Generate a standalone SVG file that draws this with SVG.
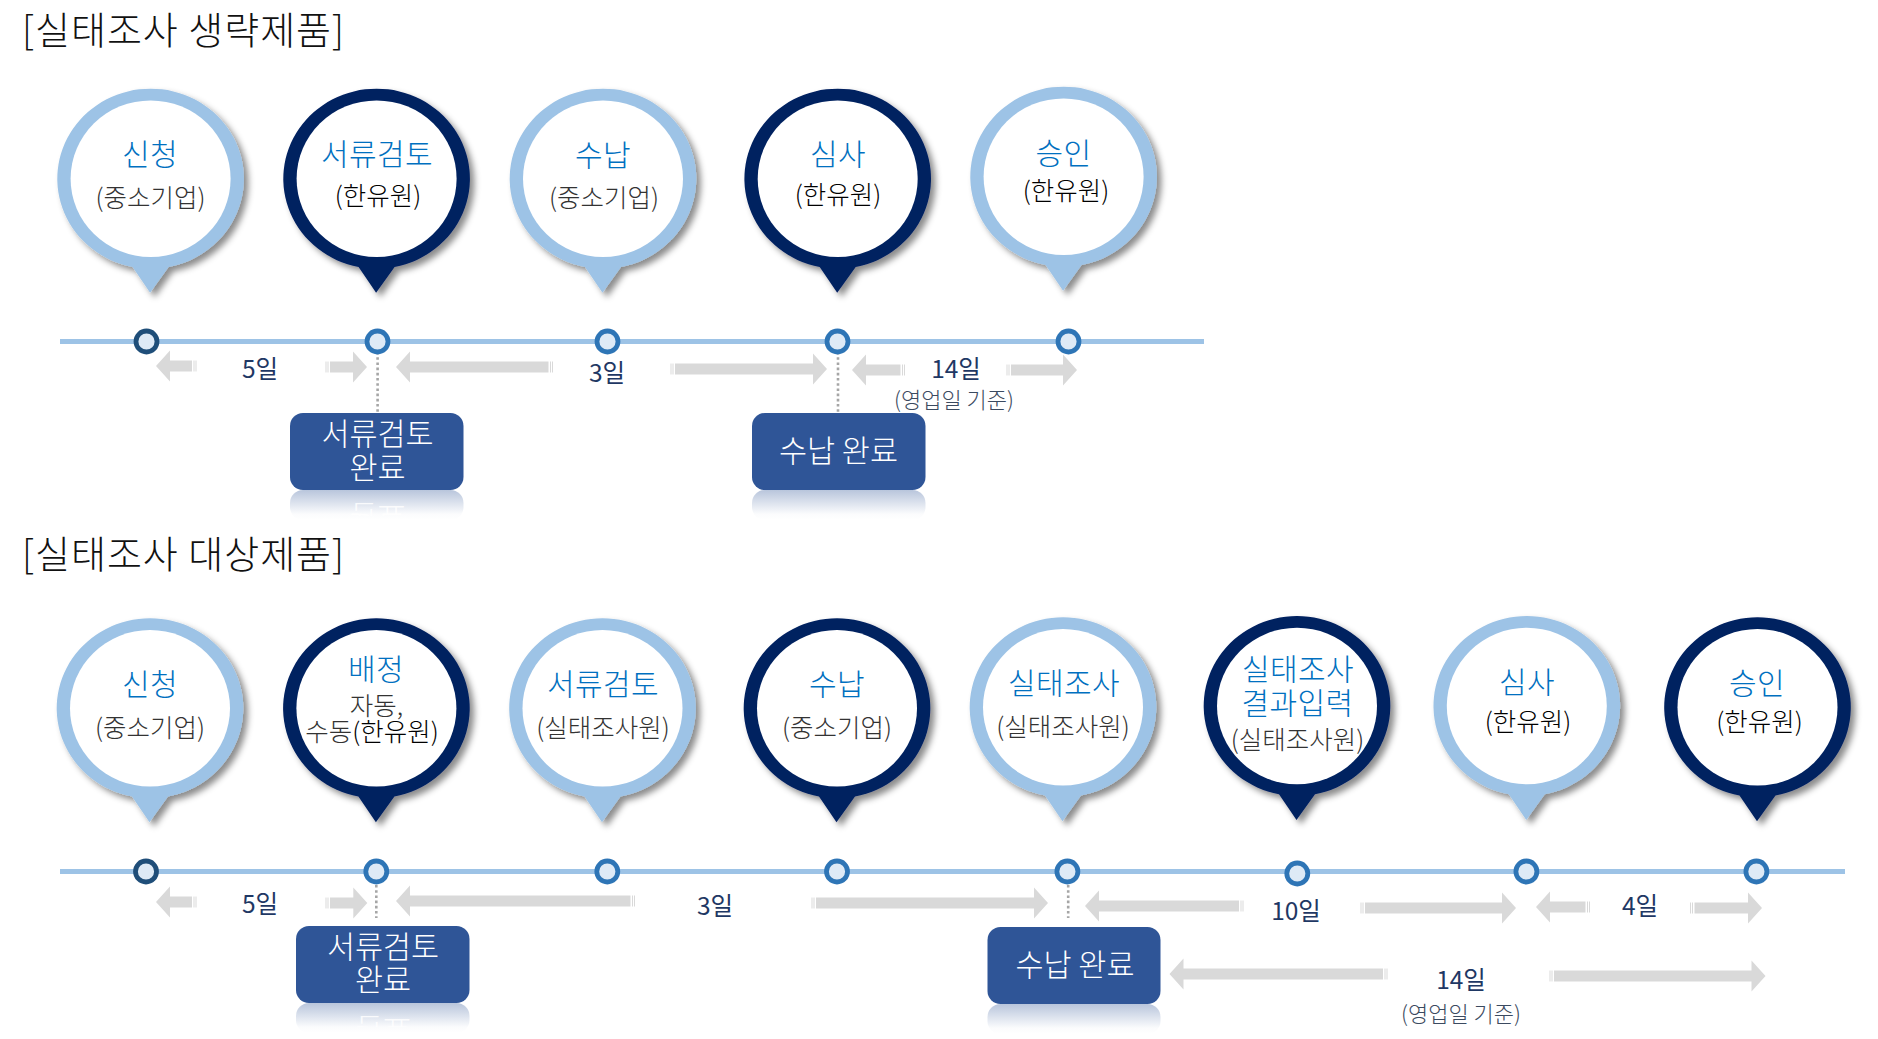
<svg xmlns="http://www.w3.org/2000/svg" width="1878" height="1039" viewBox="0 0 1878 1039">
<style>
text{font-family:"Noto Sans CJK KR","Noto Sans",sans-serif;text-anchor:middle;font-weight:300}
.title{font-size:38px;letter-spacing:1px;fill:#111;text-anchor:start}
.lb{fill:#9DC3E6}.dk{fill:#002060}
.sh{filter:url(#shadow)}
.hole{fill:#fff}
.h{font-size:30px;letter-spacing:.4px;fill:#0070C0}
.s{font-size:25.5px;fill:#333}
.k{fill:#000}
.tl{stroke:#9DC3E6;stroke-width:5;fill:none}
.n1,.n2{fill:#DEEAF6;stroke-width:4.8}
.n1{stroke:#1F4E79}.n2{stroke:#2E75B6}
.ar{fill:#D9D9D9}
.as{fill:none;stroke:#D9D9D9;stroke-width:1}
.dot{stroke:#A6A6A6;stroke-width:2.6;stroke-dasharray:2.6 2.6;fill:none}
.d{font-size:24.5px;fill:#1F3864;font-weight:400}
.b{font-size:22px;fill:#3B4A60}
.box{fill:#2F5597}
.w{font-size:30.5px;fill:#fff}
.ref{fill:url(#fade)}
</style>
<defs>
<filter id="shadow" x="-20%" y="-20%" width="145%" height="145%"><feDropShadow dx="4.5" dy="4.5" stdDeviation="3.2" flood-color="#000" flood-opacity="0.45"/></filter>
<linearGradient id="fade" x1="0" y1="0" x2="0" y2="1"><stop offset="0" stop-color="#2F5597" stop-opacity="0.34"/><stop offset="0.8" stop-color="#2F5597" stop-opacity="0.02"/><stop offset="1" stop-color="#2F5597" stop-opacity="0"/></linearGradient>
<path id="pin" d="M-0.5 114L18 88.3A93.3 90 0 1 0 -18 88.3Z"/>
<ellipse id="hole" class="hole" rx="80" ry="78.3"/>
<clipPath id="c1"><rect x="290" y="490" width="174" height="26"/></clipPath>
<clipPath id="c2"><rect x="296" y="1003" width="174" height="24"/></clipPath>
</defs>
<rect width="1878" height="1039" fill="#fff"/>

<text class="title" x="22" y="44" id="title-a">[실태조사 생략제품]</text>
<text class="title" x="22" y="568" id="title-b">[실태조사 대상제품]</text>

<g id="connectors">
<path class="tl" d="M60 341.5H1204"/>
<path class="tl" d="M60 871.5H1845"/>
<path class="dot" d="M377.6 352V413M838 352V413M376.3 885V918M1068.2 885V918"/>
<path class="ar" d="M156 366l14 -15.5v10H192v11H170v10z"/><path class="as" d="M194 360.5v11M196 360.5v11"/>
<path class="ar" d="M367 367l-14 -15.5v10H330v11H353v10z"/><path class="as" d="M326 361.5v11M328 361.5v11"/>
<path class="ar" d="M396 367l14 -15.5v10H548.5v11H410v10z"/><path class="as" d="M550.5 361.5v11M552.5 361.5v11"/>
<path class="ar" d="M827 369l-14 -15.5v10H675v11H813v10z"/><path class="as" d="M671 363.5v11M673 363.5v11"/>
<path class="ar" d="M852 370l14 -15.5v10H900.5v11H866v10z"/><path class="as" d="M902.5 364.5v11M904.5 364.5v11"/>
<path class="ar" d="M1077 370l-14 -15.5v10H1011v11H1063v10z"/><path class="as" d="M1007 364.5v11M1009 364.5v11"/>
<path class="ar" d="M156 902l14 -15.5v10H192v11H170v10z"/><path class="as" d="M194 896.5v11M196 896.5v11"/>
<path class="ar" d="M367.3 903l-14 -15.5v10H330v11H353.3v10z"/><path class="as" d="M326 897.5v11M328 897.5v11"/>
<path class="ar" d="M396 901l14 -15.5v10H630.5v11H410v10z"/><path class="as" d="M632.5 895.5v11M634.5 895.5v11"/>
<path class="ar" d="M1048 903l-14 -15.5v10H816v11H1034v10z"/><path class="as" d="M812 897.5v11M814 897.5v11"/>
<path class="ar" d="M1085 906l14 -15.5v10H1239v11H1099v10z"/><path class="as" d="M1241 900.5v11M1243 900.5v11"/>
<path class="ar" d="M1516 908l-14 -15.5v10H1365v11H1502v10z"/><path class="as" d="M1361 902.5v11M1363 902.5v11"/>
<path class="ar" d="M1536 907l14 -15.5v10H1585.5v11H1550v10z"/><path class="as" d="M1587.5 901.5v11M1589.5 901.5v11"/>
<path class="ar" d="M1762 908l-14 -15.5v10H1694.5v11H1748v10z"/><path class="as" d="M1690.5 902.5v11M1692.5 902.5v11"/>
<path class="ar" d="M1169.5 974l14 -15.5v10H1383v11H1183.5v10z"/><path class="as" d="M1385 968.5v11M1387 968.5v11"/>
<path class="ar" d="M1765.5 976l-14 -15.5v10H1554v11H1751.5v10z"/><path class="as" d="M1550 970.5v11M1552 970.5v11"/>
</g>

<g id="timeline-dots">
<circle class="n1" cx="146.5" cy="341.5" r="10.5"/><circle class="n2" cx="377.5" cy="341.5" r="10.5"/><circle class="n2" cx="607.5" cy="341.5" r="10.5"/><circle class="n2" cx="837.5" cy="341.5" r="10.5"/><circle class="n2" cx="1068.5" cy="341.5" r="10.5"/>
<circle class="n1" cx="146" cy="871.5" r="10.5"/><circle class="n2" cx="376.3" cy="871.5" r="10.5"/><circle class="n2" cx="607.3" cy="871.5" r="10.5"/><circle class="n2" cx="837" cy="871.5" r="10.5"/><circle class="n2" cx="1067.4" cy="871.5" r="10.5"/><circle class="n2" cx="1297.3" cy="873.5" r="10.5"/><circle class="n2" cx="1526.4" cy="871.5" r="10.5"/><circle class="n2" cx="1756.4" cy="871.5" r="10.5"/>
</g>

<g id="a-apply"><use href="#pin" class="lb sh" x="150.6" y="178.7"/><use href="#hole" x="150.6" y="178.7"/><text class="h" x="150" y="165">신청</text><text class="s" x="150.5" y="207">(중소기업)</text></g>
<g id="a-docs"><use href="#pin" class="dk sh" x="376.6" y="178.7"/><use href="#hole" x="376.6" y="178.7"/><text class="h" x="377" y="165">서류검토</text><text class="s k" x="378" y="205">(한유원)</text></g>
<g id="a-pay"><use href="#pin" class="lb sh" x="603" y="178.7"/><use href="#hole" x="603" y="178.7"/><text class="h" x="603" y="166">수납</text><text class="s" x="604" y="207">(중소기업)</text></g>
<g id="a-review"><use href="#pin" class="dk sh" x="837.7" y="178.7"/><use href="#hole" x="837.7" y="178.7"/><text class="h" x="838" y="165">심사</text><text class="s k" x="838" y="204">(한유원)</text></g>
<g id="a-approve"><use href="#pin" class="lb sh" x="1063.6" y="176.7"/><use href="#hole" x="1063.6" y="176.7"/><text class="h" x="1063.5" y="164">승인</text><text class="s k" x="1066" y="200">(한유원)</text></g>

<g id="b-apply"><use href="#pin" class="lb sh" x="150" y="708.3"/><use href="#hole" x="150" y="708.3"/><text class="h" x="150" y="695">신청</text><text class="s" x="150" y="737">(중소기업)</text></g>
<g id="b-assign"><use href="#pin" class="dk sh" x="376.4" y="708.3"/><use href="#hole" x="376.4" y="708.3"/><text class="h" x="376" y="680">배정</text><text class="s" x="376.5" y="715">자동,</text><text class="s" x="372" y="741">수동<tspan class="k">(한유원)</tspan></text></g>
<g id="b-docs"><use href="#pin" class="lb sh" x="602.5" y="708.3"/><use href="#hole" x="602.5" y="708.3"/><text class="h" x="603" y="695">서류검토</text><text class="s" x="603" y="737">(실태조사원)</text></g>
<g id="b-pay"><use href="#pin" class="dk sh" x="837" y="708.3"/><use href="#hole" x="837" y="708.3"/><text class="h" x="837" y="695">수납</text><text class="s" x="837" y="737">(중소기업)</text></g>
<g id="b-survey"><use href="#pin" class="lb sh" x="1063" y="707.3"/><use href="#hole" x="1063" y="707.3"/><text class="h" x="1064" y="694">실태조사</text><text class="s" x="1063" y="736">(실태조사원)</text></g>
<g id="b-result"><use href="#pin" class="dk sh" x="1297" y="706"/><use href="#hole" x="1297" y="706"/><text class="h" x="1298" y="680">실태조사</text><text class="h" x="1297.5" y="714">결과입력</text><text class="s" x="1297.5" y="749">(실태조사원)</text></g>
<g id="b-review"><use href="#pin" class="lb sh" x="1526.8" y="706"/><use href="#hole" x="1526.8" y="706"/><text class="h" x="1527" y="693">심사</text><text class="s k" x="1528" y="731">(한유원)</text></g>
<g id="b-approve"><use href="#pin" class="dk sh" x="1757.5" y="707.3"/><use href="#hole" x="1757.5" y="707.3"/><text class="h" x="1757" y="694">승인</text><text class="s k" x="1759.5" y="731">(한유원)</text></g>

<g id="durations">
<text class="d" x="260" y="378">5일</text><text class="d" x="607" y="382">3일</text><text class="d" x="956" y="378">14일</text><text class="b" x="954" y="408">(영업일 기준)</text>
<text class="d" x="260" y="913">5일</text><text class="d" x="715" y="915">3일</text><text class="d" x="1296" y="920">10일</text><text class="d" x="1640" y="915">4일</text><text class="d" x="1461" y="989">14일</text><text class="b" x="1461" y="1022">(영업일 기준)</text>
</g>

<g id="a-box-docs"><rect class="box" x="290" y="413" width="173.5" height="77" rx="13"/><text class="w" x="377.5" y="445">서류검토</text><text class="w" x="377.5" y="479">완료</text>
<rect class="ref" x="290" y="490" width="173.5" height="30" rx="13"/><g clip-path="url(#c1)"><text class="w" transform="translate(377.5,505) scale(1,-1)" x="0" y="0" fill-opacity="0.85">완료</text></g></g>
<g id="a-box-pay"><rect class="box" x="752" y="413" width="173.5" height="77" rx="13"/><text class="w" x="838.5" y="462">수납 완료</text>
<rect class="ref" x="752" y="490" width="173.5" height="30" rx="13"/></g>
<g id="b-box-docs"><rect class="box" x="296" y="926" width="173.5" height="77" rx="13"/><text class="w" x="383" y="958">서류검토</text><text class="w" x="383" y="991">완료</text>
<rect class="ref" x="296" y="1003" width="173.5" height="30" rx="13"/><g clip-path="url(#c2)"><text class="w" transform="translate(383,1018) scale(1,-1)" x="0" y="0" fill-opacity="0.85">완료</text></g></g>
<g id="b-box-pay"><rect class="box" x="987.5" y="927" width="173" height="77" rx="13"/><text class="w" x="1075" y="976">수납 완료</text>
<rect class="ref" x="987.5" y="1004" width="173" height="30" rx="13"/></g>
</svg>
